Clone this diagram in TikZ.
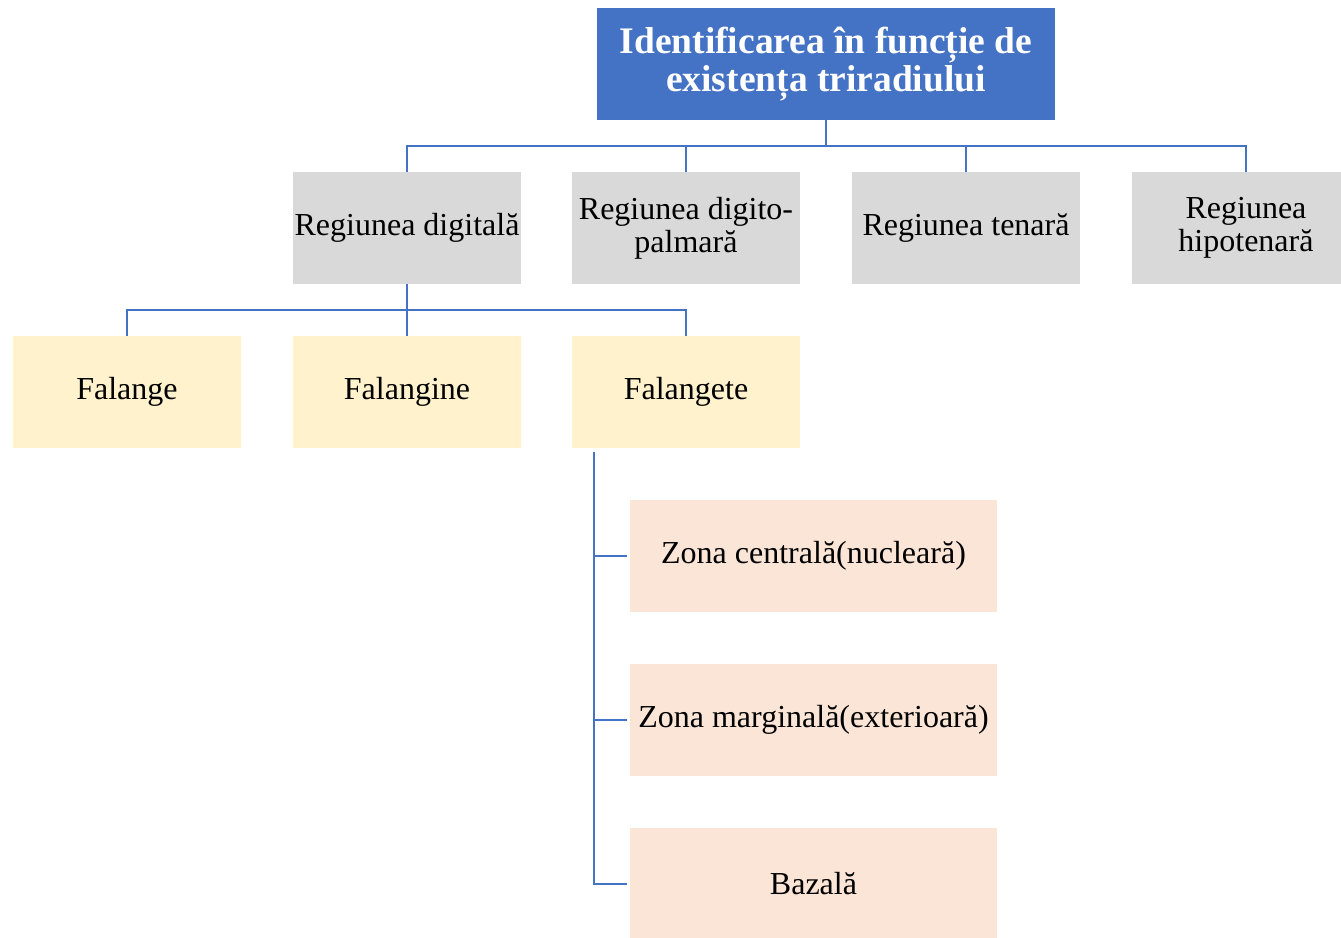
\documentclass[tikz,border=0pt]{standalone}
\usepackage{fontspec}
\setmainfont{Liberation Serif}
\definecolor{accentblue}{HTML}{4472C4}
\definecolor{linkblue}{HTML}{4472C4}
\definecolor{regiongray}{HTML}{D9D9D9}
\definecolor{phalanxyellow}{HTML}{FFF2CC}
\definecolor{zonepeach}{HTML}{FBE5D6}

\begin{document}
\begin{tikzpicture}[x=1pt,y=-1pt,
    box/.style={inner sep=0pt,minimum width=228pt,minimum height=112pt,align=center,
      font=\fontsize{32}{33}\selectfont},
    titlebox/.style={box,fill=accentblue,text=white,minimum width=458pt,
      font=\fontsize{37.5}{38}\selectfont\bfseries},
    regionbox/.style={box,fill=regiongray},
    phalanxbox/.style={box,fill=phalanxyellow},
    zonebox/.style={box,fill=zonepeach,minimum width=367pt},
    link/.style={draw=linkblue,line width=2.5pt}]
  \useasboundingbox (0,0) rectangle (1341,937);

  \node[titlebox] (title) at (826,64)
    {Identificarea în funcție de\\existența triradiului};

  \node[regionbox] (digital) at (407,228) {Regiunea digitală};
  \node[regionbox] (digpalm) at (686,228) {Regiunea digito-\\palmară};
  \node[regionbox] (tenar) at (966,228) {Regiunea tenară};
  \node[regionbox] (hipotenar) at (1246,228) {Regiunea\\hipotenară};

  \node[phalanxbox] (falange) at (127,392) {Falange};
  \node[phalanxbox] (falangine) at (407,392) {Falangine};
  \node[phalanxbox] (falangete) at (686,392) {Falangete};

  \node[zonebox] (central) at (813.5,556) {Zona centrală(nucleară)};
  \node[zonebox] (marginal) at (813.5,720) {Zona marginală(exterioară)};
  \node[zonebox] (bazal) at (813.5,884) {Bazală};

  \draw[link] (title.south) -- ++(0,26) -| (digital.north);
  \draw[link] (title.south) -- ++(0,26) -| (digpalm.north);
  \draw[link] (title.south) -- ++(0,26) -| (tenar.north);
  \draw[link] (title.south) -- ++(0,26) -| (hipotenar.north);

  \draw[link] (digital.south) -- ++(0,26) -| (falange.north);
  \draw[link] (digital.south) -- ++(0,26) -| (falangine.north);
  \draw[link] (digital.south) -- ++(0,26) -| (falangete.north);

  \draw[link,shorten >=3pt] ([xshift=22pt,yshift=-4pt]falangete.south west) |- (central.west);
  \draw[link,shorten >=3pt] ([xshift=22pt,yshift=-4pt]falangete.south west) |- (marginal.west);
  \draw[link,shorten >=3pt] ([xshift=22pt,yshift=-4pt]falangete.south west) |- (bazal.west);
\end{tikzpicture}
\end{document}
